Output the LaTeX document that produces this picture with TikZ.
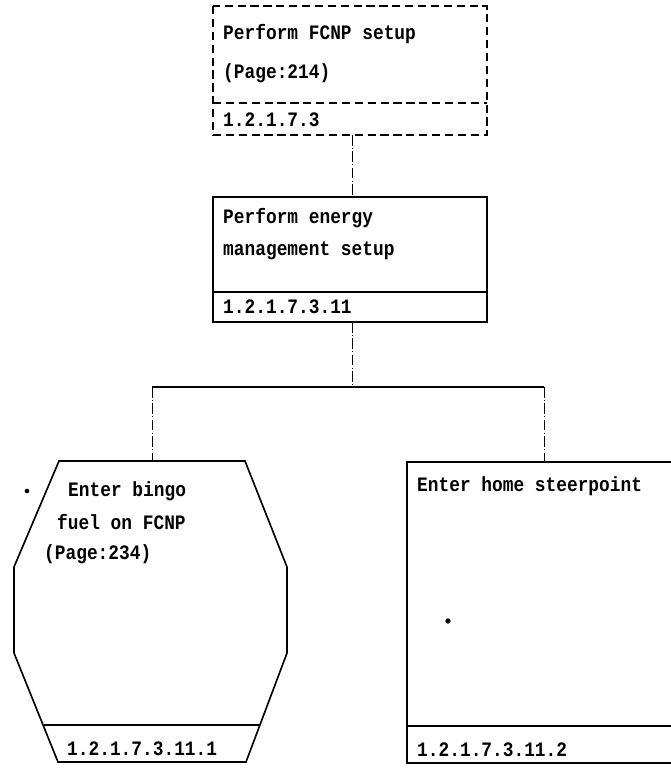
\documentclass[tikz,border=0pt]{standalone}
\usepackage{fontspec}
\setmonofont{Liberation Mono}[FakeStretch=0.87]
\usetikzlibrary{positioning}

\tikzset{
  lbl/.style={anchor=west, inner sep=0pt, font=\ttfamily\bfseries\fontsize{17.5}{20}\selectfont},
  boxline/.style={draw=black, line width=1.1pt},
  dashbox/.style={draw=black, line width=1.6pt, dash pattern=on 7pt off 4pt},
  divline/.style={black, line width=1.8pt},
  link/.style={black, line width=0.8pt, dash pattern=on 9pt off 2pt on 1pt off 2pt},
}

\begin{document}
\begin{tikzpicture}[x=0.03cm, y=-0.03cm]
\useasboundingbox (0,0) rectangle (670,768);

%FCNP SETUP
\draw[dashbox] (213,6) rectangle (487,135);
\draw[dashbox] (213,103) -- (487,103);
\node[lbl] (fcnp) at (223,34) {Perform FCNP setup};
\node[lbl] (fcnppage) at (223,73) {(Page:214)};
\node[lbl] (fcnpcode) at (223,120) {1.2.1.7.3};

%ENERGY MANAGEMENT
\draw[boxline] (213,197) rectangle (487,322);
\draw[divline] (213,292) -- (487,292);
\node[lbl] (energy) at (223,218) {Perform energy};
\node[lbl] (energyb) at (223,251) {management setup};
\node[lbl] (energycode) at (223,307) {1.2.1.7.3.11};

%BINGO FUEL
\draw[boxline, line width=1.4pt] (59,461) -- (245,461) -- (287,567) -- (287,653) -- (246,762)
  -- (58,762) -- (14,653) -- (14,567) -- cycle;
\draw[divline] (44,725) -- (260,725);
\node[lbl] (bingo) at (68,491) {Enter bingo};
\node[lbl] (bingob) at (57,522) {fuel on FCNP};
\node[lbl] (bingopage) at (44,554) {(Page:234)};
\node[lbl] (bingocode) at (67,749) {1.2.1.7.3.11.1};
\fill (27,491) circle[radius=0.07cm];

%HOME STEERPOINT (runs off the right edge)
\draw[boxline, line width=1.4pt] (700,462) -- (407,462) -- (407,763) -- (700,763);
\draw[divline] (407,726) -- (700,726);
\node[lbl] (home) at (417,486) {Enter home steerpoint};
\node[lbl] (homecode) at (417,750) {1.2.1.7.3.11.2};
\fill (448,621) circle[radius=0.08cm];

%connectors
\coordinate (fcnpbot) at (352,135);
\coordinate (energytop) at (352,197);
\coordinate (energybot) at (352,322);
\coordinate (split) at (352,387);
\coordinate (lefttee) at (152,387);
\coordinate (righttee) at (544,387);
\coordinate (bingotop) at (152,461);
\coordinate (hometop) at (544,462);

\draw[link] (fcnpbot) -- (energytop);
\draw[link] (energybot) -- (split);
\draw[black, line width=1.3pt] (lefttee) -- (righttee);
\draw[link] (lefttee) -- (bingotop);
\draw[link] (righttee) -- (hometop);
\end{tikzpicture}
\end{document}
